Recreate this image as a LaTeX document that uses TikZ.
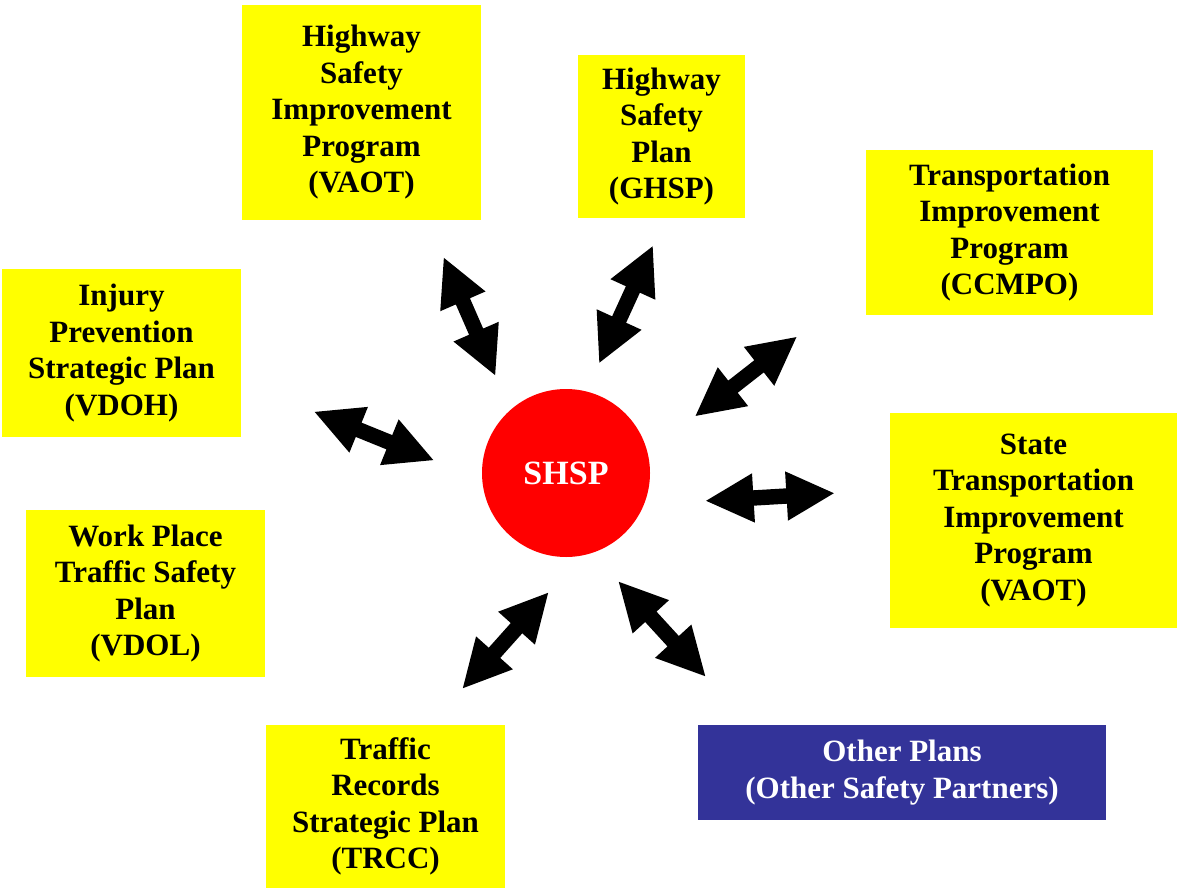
\documentclass[tikz,border=0pt]{standalone}
\usepackage{fontspec}
\setmainfont{Liberation Serif}
\usetikzlibrary{shapes.arrows}
\definecolor{otherblue}{RGB}{51,51,153}
\definecolor{planyellow}{RGB}{255,255,0}

\begin{document}
\begin{tikzpicture}[x=1pt,y=-1pt,
    plan/.style={fill=planyellow,text=black,align=center,inner sep=0pt,
        font=\bfseries\fontsize{31}{36.5}\selectfont},
    link/.style={double arrow,fill=black,inner xsep=0pt,inner ysep=7.5pt,
        minimum width=1pt,minimum height=128pt,
        double arrow head extend=17pt,double arrow tip angle=55}]
    \useasboundingbox (0,0) rectangle (1177,888); % page size of the slide

    % the plan in the middle
    \node[circle,fill=red,text=white,minimum size=168pt,inner sep=0pt,
        font=\bfseries\fontsize{34}{40}\selectfont] (shsp) at (566,473) {SHSP};

    % the plans round it
    \node[plan,minimum width=239pt,minimum height=215pt] (hsip) at (361.5,112.5)
        {Highway\\Safety\\Improvement\\Program\\(VAOT)};
    \node[plan,minimum width=167pt,minimum height=163pt] (hsp) at (661.5,136.5)
        {Highway\\Safety\\Plan\\(GHSP)};
    \node[plan,minimum width=287pt,minimum height=165pt] (tip) at (1009.5,232.5)
        {Transportation\\Improvement\\Program\\(CCMPO)};
    \node[plan,minimum width=239pt,minimum height=168pt] (injury) at (121.5,353)
        {Injury\\Prevention\\Strategic Plan\\(VDOH)};
    \node[plan,minimum width=287pt,minimum height=215pt] (stip) at (1033.5,520.5)
        {State\\Transportation\\Improvement\\Program\\(VAOT)};
    \node[plan,minimum width=239pt,minimum height=167pt] (workplace) at (145.5,593.5)
        {Work Place\\Traffic Safety\\Plan\\(VDOL)};
    \node[plan,minimum width=239pt,minimum height=163pt] (records) at (385.5,806.5)
        {Traffic\\Records\\Strategic Plan\\(TRCC)};
    \node[plan,fill=otherblue,text=white,minimum width=408pt,minimum height=95pt] (other) at (902,772.5)
        {Other Plans\\(Other Safety Partners)};

    % two-way arrows between SHSP and the plans
    \foreach \n/\x/\y/\a in {hsiplink/469.5/316.5/-66.4, hsplink/626/304.5/65.4,
        tiplink/746/376.5/38, injurylink/374/436/-22.1, stiplink/770/497/3.4,
        otherlink/662/629/-47.5, recordslink/505.5/640.5/48.2}
        \node[link,rotate=\a] (\n) at (\x,\y) {};
\end{tikzpicture}
\end{document}
